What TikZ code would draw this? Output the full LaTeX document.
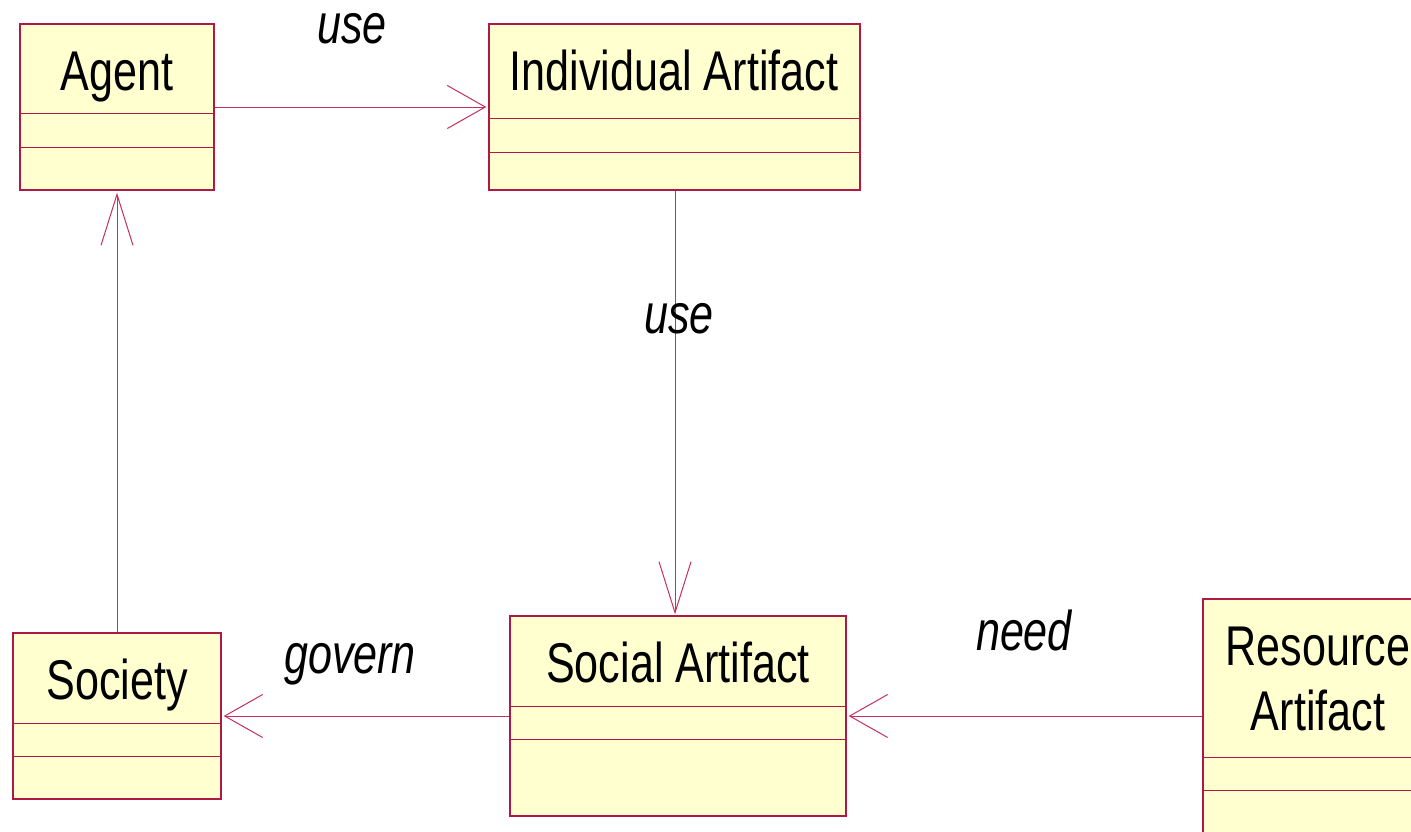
\documentclass[tikz,border=0pt]{standalone}
\usepackage{fontspec}
\setmainfont{Liberation Sans}[FakeStretch=0.77]
\usetikzlibrary{arrows.meta,calc}

\definecolor{classfill}{RGB}{255,255,208}
\definecolor{classline}{RGB}{176,24,72}
\definecolor{linkline}{RGB}{196,48,92}

\tikzset{
  classbox/.style={draw=classline, fill=classfill, line width=1.3pt, inner sep=0pt},
  divider/.style={draw=classline, line width=1pt},
  classname/.style={anchor=base, inner sep=0pt, font=\fontsize{56}{62}\selectfont},
  linklabel/.style={anchor=base, inner sep=0pt, font=\fontsize{56}{62}\selectfont\itshape},
  hlink/.style={draw=linkline, line width=1pt, -{Straight Barb[length=38pt,width=43pt,line width=1pt]}},
  vlink/.style={draw=linkline, line width=1pt, -{Straight Barb[length=51pt,width=32pt,line width=1pt]}},
}

% class box: name, left, top, right, bottom, first divider, second divider
\newcommand{\umlbox}[7]{%
  \node[classbox, minimum width={#4-#2}, minimum height={#5-#3}]
    (#1) at ({(#2+#4)/2},{(#3+#5)/2}) {};
  \draw[divider] (#2,#6) -- (#4,#6);
  \draw[divider] (#2,#7) -- (#4,#7);
}

\begin{document}
\begin{tikzpicture}[x=1pt,y=-1pt]
  \useasboundingbox (0,0) rectangle (1411,831);
  \clip (0,0) rectangle (1411,831);

  % classes
  \umlbox{agent}{20}{24}{214}{190}{113}{147}
  \node[classname] (agentname) at (117,90) {Agent};

  \umlbox{indiv}{489}{24}{860}{190}{118}{152}
  \node[classname] (indivname) at (674,90) {Individual Artifact};

  \umlbox{social}{510}{616}{846}{816}{706}{739}
  \node[classname] (socialname) at (678,682) {Social Artifact};

  \umlbox{society}{13}{633}{221}{799}{723}{756}
  \node[classname] (societyname) at (117,699) {Society};

  \umlbox{resource}{1203}{599}{1433}{860}{757}{790}
  \node[classname] (resname1) at (1318,665) {Resource};
  \node[classname] (resname2) at (1318,730) {Artifact};

  % associations
  \draw[hlink, shorten >=2pt] (agent.east) -- (indiv.west);
  \draw[vlink, shorten >=1pt] (indiv.south -| 675,0) -- (social.north -| 675,0);
  \draw[vlink, shorten >=2pt] (society.north -| 117,0) -- (agent.south -| 117,0);
  \draw[hlink, shorten >=2pt] (social.west |- 0,716) -- (society.east |- 0,716);
  \draw[hlink, shorten >=2pt] (resource.west |- 0,716) -- (social.east |- 0,716);

  % association labels
  \node[linklabel] (use1) at (352,43) {use};
  \node[linklabel] (use2) at (679,333) {use};
  \node[linklabel] (govern) at (350,673) {govern};
  \node[linklabel] (need) at (1024,650) {need};
\end{tikzpicture}
\end{document}
